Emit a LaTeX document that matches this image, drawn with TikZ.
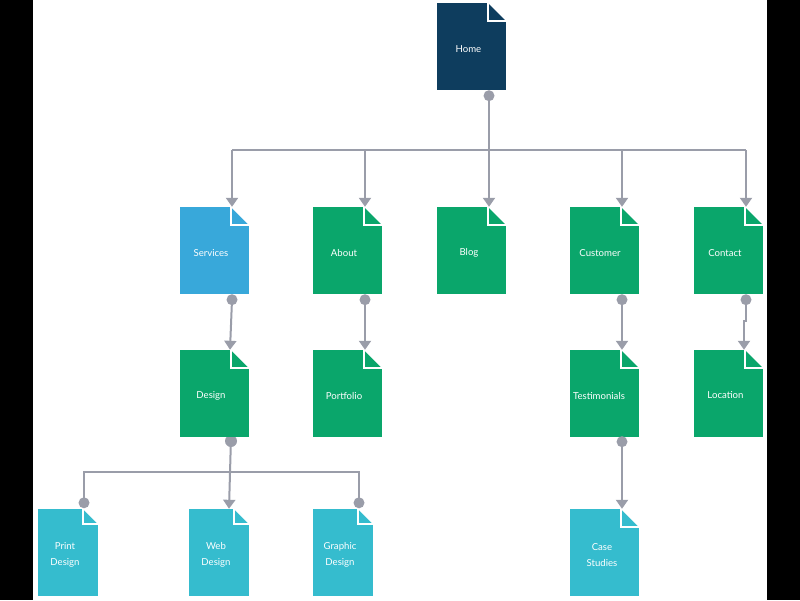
\documentclass[tikz,border=0pt]{standalone}
\usepackage{fontspec}
\setmainfont{Lato}
\usetikzlibrary{arrows.meta,calc}
\definecolor{navy}{HTML}{0E3D5E}
\definecolor{sblue}{HTML}{38A8DA}
\definecolor{sgreen}{HTML}{0AA66B}
\definecolor{steal}{HTML}{35BCCE}
\definecolor{cgrey}{HTML}{9A9DA9}
\def\foldsize{18pt}
\tikzset{
  fold/.store in=\foldsize,
  docbox/.style={draw=none, inner sep=0pt, minimum width=69pt, minimum height=87pt, fill=#1,
    path picture={
      \fill[white] ([xshift=-\foldsize]path picture bounding box.north east) -- (path picture bounding box.north east) -- ([yshift=-\foldsize]path picture bounding box.north east) -- cycle;
      \draw[white, line width=1.3pt] ([xshift=-\foldsize]path picture bounding box.north east) -- ([xshift=-\foldsize,yshift=-\foldsize]path picture bounding box.north east) -- ([yshift=-\foldsize]path picture bounding box.north east);
    }},
  smallbox/.style={docbox=#1, minimum width=60pt, fold=15pt},
  lbl/.style={text=white, font=\fontsize{9.6}{16}\selectfont, align=center, inner sep=0pt},
  conn/.style={draw=cgrey, line width=2pt},
  tip/.style={conn, -{Triangle[width=12pt,length=9pt]}},
  dot/.style={fill=cgrey, draw=none}
}
\begin{document}
\begin{tikzpicture}[x=1pt,y=-1pt]
\useasboundingbox (0,0) rectangle (800,600);
\fill[black] (0,0) rectangle (33,600);
\fill[black] (767,0) rectangle (800,600);

% connection points (defined after boxes below)
% boxes
\node[docbox=navy] (home) at (471.5,46.5) {};
\node[docbox=sblue] (services) at (214.5,250.5) {};
\node[docbox=sgreen] (about) at (347.5,250.5) {};
\node[docbox=sgreen] (blog) at (471.5,250.5) {};
\node[docbox=sgreen] (customer) at (604.5,250.5) {};
\node[docbox=sgreen] (contact) at (728.5,250.5) {};
\node[smallbox=steal] (print) at (68,552.5) {};
\node[smallbox=steal] (web) at (219,552.5) {};
\node[smallbox=steal] (graphic) at (343,552.5) {};
\node[docbox=steal] (case) at (604.5,552.5) {};

% the Design dot sits partly under its box
\coordinate (designD) at (231,441);
\fill[cgrey] (designD) circle[radius=6pt];

\node[docbox=sgreen] (design) at (214.5,393.5) {};
\node[docbox=sgreen] (portfolio) at (347.5,393.5) {};
\node[docbox=sgreen] (testimonials) at (604.5,393.5) {};
\node[docbox=sgreen] (location) at (728.5,393.5) {};

% labels
\node[lbl] (homeT) at ([xshift=-3pt,yshift=-2.5pt]home.center) {Home};
\node[lbl] (servicesT) at ([xshift=-3.5pt,yshift=-2.5pt]services.center) {Services};
\node[lbl] (aboutT) at ([xshift=-3.5pt,yshift=-2.5pt]about.center) {About};
\node[lbl] (blogT) at ([xshift=-2.5pt,yshift=-2.5pt]blog.center) {Blog};
\node[lbl] (customerT) at ([xshift=-4.5pt,yshift=-2.5pt]customer.center) {Customer};
\node[lbl] (contactT) at ([xshift=-3.5pt,yshift=-2.5pt]contact.center) {Contact};
\node[lbl] (designT) at ([xshift=-3.5pt,yshift=-2pt]design.center) {Design};
\node[lbl] (portfolioT) at ([xshift=-3.5pt,yshift=-2pt]portfolio.center) {Portfolio};
\node[lbl] (testimonialsT) at ([xshift=-5.5pt,yshift=-2pt]testimonials.center) {Testimonials};
\node[lbl] (locationT) at ([xshift=-3pt,yshift=-2pt]location.center) {Location};
\node[lbl] (printT) at ([xshift=-3pt,yshift=-2.5pt]print.center) {Print\\Design};
\node[lbl] (webT) at ([xshift=-3pt,yshift=-2.5pt]web.center) {Web\\Design};
\node[lbl] (graphicT) at ([xshift=-3pt,yshift=-2.5pt]graphic.center) {Graphic\\Design};
\node[lbl] (caseT) at ([xshift=-2.5pt,yshift=-2.5pt]case.center) {Case\\Studies};

% connection points
\coordinate (homeD) at ([xshift=17.5pt,yshift=-5.5pt]home.south);
\coordinate (servicesD) at ([xshift=17.5pt,yshift=-5.5pt]services.south);
\coordinate (aboutD) at ([xshift=17.5pt,yshift=-5.5pt]about.south);
\coordinate (customerD) at ([xshift=17.5pt,yshift=-5.5pt]customer.south);
\coordinate (contactD) at ([xshift=17.5pt,yshift=-5.5pt]contact.south);
\coordinate (testimonialsD) at ([xshift=17.5pt,yshift=-4.5pt]testimonials.south);
\coordinate (printD) at ([xshift=16pt,yshift=6pt]print.north);
\coordinate (graphicD) at ([xshift=16pt,yshift=6pt]graphic.north);
\coordinate (bus) at (0,150);
\coordinate (bus2) at (0,472);

% connectors
\draw[conn] (homeD) -- (homeD |- bus);
\draw[conn] ([xshift=17.5pt]services.north |- bus) -- ([xshift=17.5pt]contact.north |- bus);
\foreach \n in {services,about,blog,customer,contact}
  \draw[tip] ([xshift=17.5pt]\n.north |- bus) -- ([xshift=17.5pt]\n.north);
\draw[tip] (servicesD) -- ([xshift=15.5pt]design.north);
\draw[tip] (aboutD) -- ([xshift=17.5pt]portfolio.north);
\draw[tip] (customerD) -- ([xshift=17.5pt]testimonials.north);
\draw[tip] (contactD) -- ++(0,21) -| ([xshift=15.5pt]location.north);
\draw[tip] (testimonialsD) -- ([xshift=17.5pt]case.north);
\draw[tip] (design.south -| designD) -- ([xshift=10pt]web.north);
\draw[conn] (printD) -- (printD |- bus2) -- (graphicD |- bus2) -- (graphicD);

% dots
\foreach \d in {homeD,servicesD,aboutD,customerD,contactD,testimonialsD,printD,graphicD}
  \fill[dot] (\d) circle[radius=5.5pt];
\end{tikzpicture}
\end{document}
